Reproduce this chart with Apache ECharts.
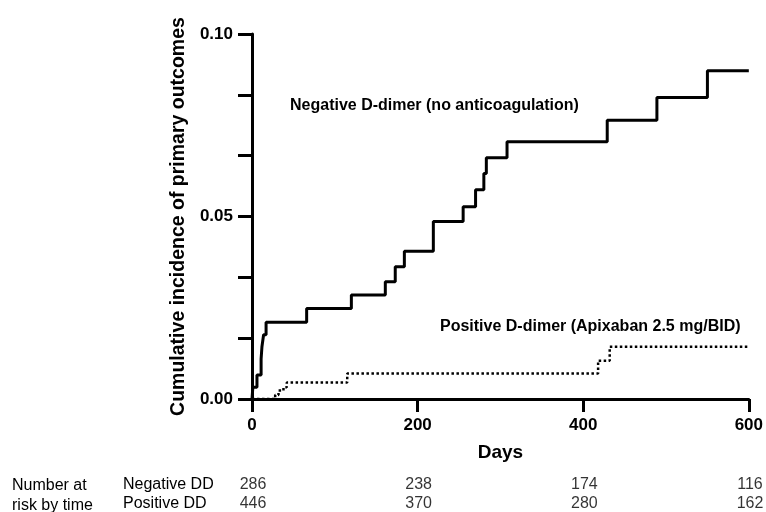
<!DOCTYPE html>
<html>
<head>
<meta charset="utf-8">
<script src="https://cdn.jsdelivr.net/npm/echarts@6/dist/echarts.min.js"></script>
<style>
  html, body { margin: 0; padding: 0; background: #fff; }
  #main { width: 766px; height: 512px; }
</style>
</head>
<body>
<div id="main"></div>
<script>
// cumulative incidence, negative D-dimer (no anticoagulation)
var negDays = [0, 1, 6, 11, 12, 14, 17, 66, 120, 161, 173, 184, 219, 255, 270, 280, 283, 308, 429, 489, 550, 600];
var negInc  = [0, 0.0032, 0.0066, 0.0110, 0.0143, 0.0176, 0.0210, 0.0248, 0.0285, 0.0321, 0.0362, 0.0405, 0.0486, 0.0527, 0.0573, 0.0618, 0.0661, 0.0705, 0.0764, 0.0826, 0.0899, 0.0899];
// positive D-dimer (apixaban)
var posDays = [0, 28, 32, 38, 42, 115, 418, 432, 600];
var posInc  = [0, 0.0011, 0.0023, 0.0032, 0.0045, 0.0070, 0.0105, 0.0143, 0.0143];
// number at risk
var riskDays = [0, 200, 400, 600];
var riskGroups = ['Negative DD', 'Positive DD'];
var negRisk = [286, 238, 174, 116];
var posRisk = [446, 370, 280, 162];

var FONT = 'Liberation Sans, Arial, sans-serif';

function pairs(xs, ys) {
  var out = [];
  for (var i = 0; i < xs.length; i++) out.push([xs[i], ys[i]]);
  return out;
}

var riskData = [];
for (var i = 0; i < riskDays.length; i++) {
  riskData.push([riskDays[i], riskGroups[0], negRisk[i]]);
  riskData.push([riskDays[i], riskGroups[1], posRisk[i]]);
}

var myChart = echarts.init(document.getElementById('main'));
var blackLine = { color: '#000', width: 3 };

var option = {
  animation: false,
  backgroundColor: '#fff',
  textStyle: { fontFamily: FONT },
  grid: [
    { left: 252, right: 17, top: 34, bottom: 113 },
    // risk table rows sit on the grid edges (boundaryGap false)
    { left: 252, right: 17, top: 485, height: 20 }
  ],
  xAxis: [{
    gridIndex: 0,
    type: 'value',
    min: 0, max: 600, interval: 200,
    name: 'Days',
    nameLocation: 'middle',
    nameGap: 44,
    nameTextStyle: { color: '#000', fontSize: 19, fontWeight: 'bold', fontFamily: FONT },
    axisLine: { lineStyle: blackLine },
    axisTick: { length: 13, lineStyle: blackLine },
    axisLabel: { color: '#000', fontSize: 17, fontWeight: 'bold', margin: 18, fontFamily: FONT },
    splitLine: { show: false }
  }, {
    gridIndex: 1,
    type: 'value',
    min: 0, max: 600,
    show: false
  }],
  yAxis: [{
    gridIndex: 0,
    type: 'value',
    min: 0, max: 0.1, interval: 0.05,
    name: 'Cumulative incidence of primary outcomes',
    nameLocation: 'middle',
    nameGap: 60,
    nameTextStyle: { color: '#000', fontSize: 19.5, fontWeight: 'bold', fontFamily: FONT },
    axisLine: { lineStyle: blackLine },
    axisTick: { length: 14, lineStyle: blackLine },
    minorTick: { show: true, splitNumber: 3, length: 14, lineStyle: blackLine },
    axisLabel: {
      color: '#000', fontSize: 17, fontWeight: 'bold', margin: 19, fontFamily: FONT,
      formatter: function (v) { return v.toFixed(2); }
    },
    splitLine: { show: false }
  }, {
    gridIndex: 1,
    type: 'category',
    data: riskGroups,
    inverse: true,
    boundaryGap: false,
    axisLine: { show: false },
    axisTick: { show: false },
    axisLabel: { color: '#000', fontSize: 16, align: 'left', margin: 129, interval: 0, fontFamily: FONT }
  }],
  graphic: [
    { type: 'text', left: 290, top: 98, style: { text: 'Negative D-dimer (no anticoagulation)', font: 'bold 16px Liberation Sans', fill: '#000' } },
    { type: 'text', left: 440, top: 319, style: { text: 'Positive D-dimer (Apixaban 2.5 mg/BID)', font: 'bold 16px Liberation Sans', fill: '#000' } },
    { type: 'text', left: 12, top: 478, style: { text: 'Number at', font: '16px Liberation Sans', fill: '#000' } },
    { type: 'text', left: 12, top: 498, style: { text: 'risk by time', font: '16px Liberation Sans', fill: '#000' } }
  ],
  series: [{
    name: 'Negative D-dimer',
    type: 'line',
    step: 'end',
    symbol: 'none',
    xAxisIndex: 0, yAxisIndex: 0,
    lineStyle: { color: '#000', width: 3 },
    data: pairs(negDays, negInc)
  }, {
    name: 'Positive D-dimer',
    type: 'line',
    step: 'end',
    symbol: 'none',
    xAxisIndex: 0, yAxisIndex: 0,
    lineStyle: { color: '#000', width: 2.5, type: 'dotted' },
    data: pairs(posDays, posInc)
  }, {
    name: 'At risk',
    type: 'scatter',
    xAxisIndex: 1, yAxisIndex: 1,
    symbolSize: 0,
    label: {
      show: true, position: 'inside', offset: [1, 0],
      color: '#000', fontSize: 16, fontFamily: FONT,
      formatter: function (p) { return p.value[2]; }
    },
    data: riskData
  }]
};
myChart.setOption(option);
</script>
</body>
</html>
